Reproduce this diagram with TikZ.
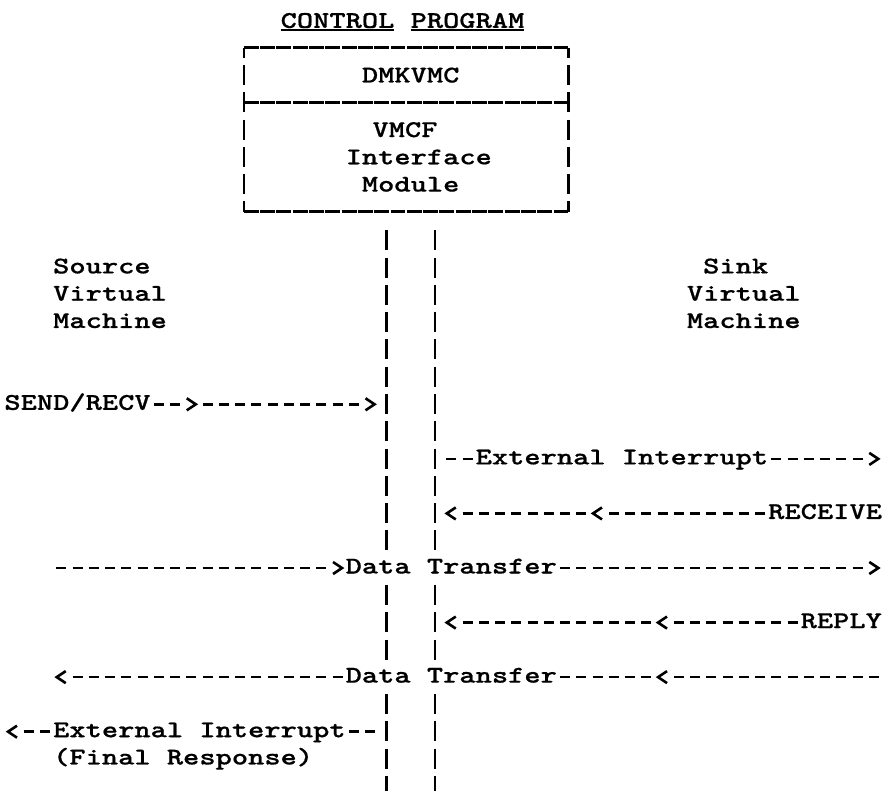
\documentclass[tikz,border=0pt]{standalone}
\usepackage{fontspec}
\newfontfamily\tw{lmmonolt10-bold.otf}[FakeStretch=1.2897, FakeBold=0.6]
\usetikzlibrary{calc}

% typewriter grid: column centres, column left edges, row centres (pt)
\pgfmathdeclarefunction{colx}{1}{\pgfmathparse{12.525+16.25*#1}}
\pgfmathdeclarefunction{coll}{1}{\pgfmathparse{4.4+16.25*#1}}
\pgfmathdeclarefunction{ry}{1}{\pgfmathparse{20.6+27.28*#1}}

\tikzset{
  txt/.style={font={\tw\fontsize{24}{27}\selectfont}, inner sep=0pt, outer sep=0pt, anchor=base west},
  dashrun/.style={line width=2.5pt, dash pattern=on 10pt off 6.25pt},
  pipe/.style={line width=2.8pt, dash pattern=on 20pt off 7.28pt},
  hline/.style={line width=2.6pt, dash pattern=on 14.9pt off 1.4pt},
  uline/.style={line width=2.4pt},
  chev/.style={line width=2.6pt, line join=miter, miter limit=4},
  chevr/.pic={\draw[chev] (-4.5,-6) -- (4.5,0) -- (-4.5,6);},
  chevl/.pic={\draw[chev] (4.5,-6) -- (-4.5,0) -- (4.5,6);},
}

% a run of typed dashes from column #1 to column #2 on row #3
\newcommand\dashrun[3]{\draw[dashrun] ({colx(#1)-5},{ry(#3)+1.8}) -- ({colx(#2)+5},{ry(#3)+1.8});}
% typed arrow heads > and < in column #1 on row #2
\newcommand\chevR[2]{\pic at ({colx(#1)},{ry(#2)+1.8}) {chevr};}
\newcommand\chevL[2]{\pic at ({colx(#1)},{ry(#2)+1.8}) {chevl};}
% a line of text starting in column #2 on row #3
\newcommand\typed[4]{\node[txt] (#1) at ({coll(#2)},{ry(#3)+7.3}) {#4};}

\begin{document}
\begin{tikzpicture}[x=1pt, y=-1pt]
\fill[white] (0,0) rectangle (882,791);
\useasboundingbox (0,0) rectangle (882,791);

% heading
\typed{title}{17}{0}{CONTROL PROGRAM}
\draw[uline] ({coll(17)},30) -- ({coll(24)},30);
\draw[uline] ({coll(25)},30) -- ({coll(32)},30);

% control program box
\node[minimum width=324pt, minimum height=163.68pt, inner sep=0pt] (cp) at (406,{(ry(1)+ry(7))/2}) {};
\coordinate (dl) at ($(cp.north west)!1/3!(cp.south west)$);
\coordinate (dr) at ($(cp.north east)!1/3!(cp.south east)$);
\draw[hline] (cp.north west) -- (cp.north east);
\draw[hline] (dl) -- (dr);
\draw[hline] (cp.south west) -- (cp.south east);
\draw[pipe, line width=2.6pt, dash phase=10pt] (cp.north west) -- (cp.south west);
\draw[pipe, line width=2.6pt, dash phase=10pt] (cp.north east) -- (cp.south east);

\typed{dmk}{22}{2}{DMKVMC}
\node[txt, anchor=base] (vmcf) at (405,{ry(4)+7.3}) {VMCF};
\typed{ifc}{21}{5}{Interface}
\typed{mod}{22}{6}{Module}

% machine labels
\typed{src1}{3}{9}{Source}
\typed{src2}{3}{10}{Virtual}
\typed{src3}{3}{11}{Machine}
\typed{snk1}{43}{9}{Sink}
\typed{snk2}{42}{10}{Virtual}
\typed{snk3}{42}{11}{Machine}

% the two interface lines below the box
\foreach \c in {23,26} {
  \coordinate (t\c) at ({colx(\c)},{ry(8)-8.5});
  \coordinate (u\c) at ({colx(\c)},{ry(19)+11.5});
  \coordinate (v\c) at ({colx(\c)},{ry(21)-8.5});
  \coordinate (w\c) at ({colx(\c)},{ry(23)+11.5});
  \coordinate (y\c) at ({colx(\c)},{ry(25)-8.5});
  \coordinate (z\c) at ({colx(\c)},791);
  \draw[pipe] (t\c) -- (u\c);
  \draw[pipe] (v\c) -- (w\c);
  \draw[pipe] (y\c) -- (z\c);
}

% SEND/RECV from the source
\typed{send}{0}{14}{SEND/RECV}
\dashrun{9}{10}{14} \chevR{11}{14} \dashrun{12}{21}{14} \chevR{22}{14}

% external interrupt to the sink
\dashrun{27}{28}{16}
\typed{ext1}{29}{16}{External Interrupt}
\dashrun{47}{52}{16} \chevR{53}{16}

% RECEIVE from the sink
\chevL{27}{18} \dashrun{28}{35}{18} \chevL{36}{18} \dashrun{37}{46}{18}
\typed{recv}{47}{18}{RECEIVE}

% data transfer, source to sink
\dashrun{3}{19}{20} \chevR{20}{20}
\typed{dt1}{21}{20}{Data Transfer}
\dashrun{34}{52}{20} \chevR{53}{20}

% REPLY from the sink
\chevL{27}{22} \dashrun{28}{39}{22} \chevL{40}{22} \dashrun{41}{48}{22}
\typed{reply}{49}{22}{REPLY}

% data transfer, sink to source
\chevL{3}{24} \dashrun{4}{20}{24}
\typed{dt2}{21}{24}{Data Transfer}
\dashrun{34}{39}{24} \chevL{40}{24} \dashrun{41}{53}{24}

% final response to the source
\chevL{0}{26} \dashrun{1}{2}{26}
\typed{ext2}{3}{26}{External Interrupt}
\dashrun{21}{22}{26}
\typed{fin}{3}{27}{(Final Response)}
\end{tikzpicture}
\end{document}
